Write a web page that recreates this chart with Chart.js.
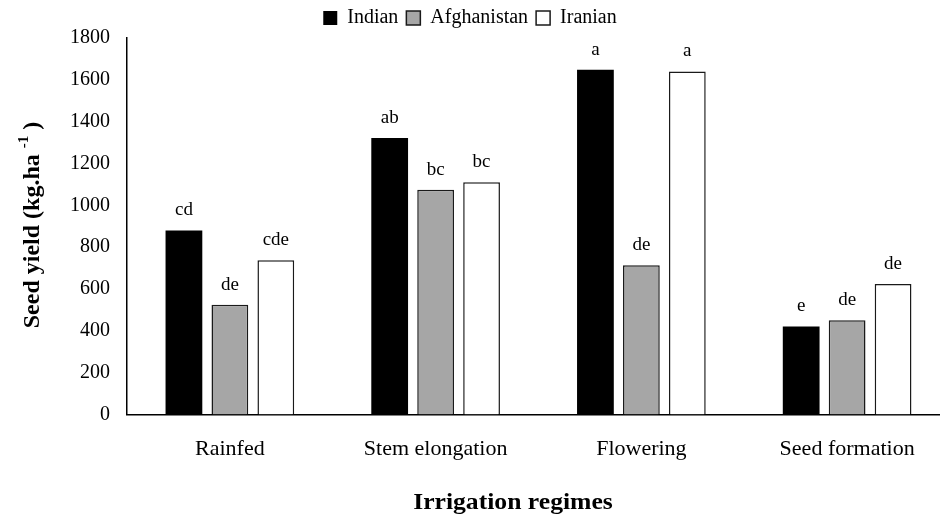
<!DOCTYPE html>
<html>
<head>
<meta charset="utf-8">
<title>Seed yield</title>
<script src="https://cdn.jsdelivr.net/npm/chart.js@4/dist/chart.umd.min.js"></script>
<style>
  html, body { margin: 0; padding: 0; background: #fff; }
  #wrap { width: 940px; height: 515px; }
</style>
</head>
<body>
<div id="wrap"><canvas id="myChart" width="940" height="515"></canvas></div>
<script>
'use strict';

// ******** GLOBAL VARIABLES **********

let regimes = ['Rainfed', 'Stem elongation', 'Flowering', 'Seed formation'];
let indianYield = [880, 1322, 1648, 421];
let afghanYield = [525, 1075, 713, 451];
let iranianYield = [737, 1110, 1640, 624];

let indianLetters = ['cd', 'ab', 'a', 'e'];
let afghanLetters = ['de', 'bc', 'de', 'de'];
let iranianLetters = ['cde', 'bc', 'a', 'de'];

let yTicks = [0, 200, 400, 600, 800, 1000, 1200, 1400, 1600, 1800];

let serif = '"Liberation Serif", "Times New Roman", serif';

// ********** DOM REFERENCES ***********

let ctx = document.getElementById('myChart').getContext('2d');

// ********** PLUGINS ***********

// the x axis of the original runs past the right edge of the picture
let stretchPlugin = {
  id: 'stretchX',
  afterLayout(chart) {
    let s = chart.scales.x;
    s.right = 950;
    s.width = s.right - s.left;
    s.configure();
    chart.chartArea.right = 950;
    chart.chartArea.width = 950 - chart.chartArea.left;
  }
};

// letters over each bar
let letterPlugin = {
  id: 'letters',
  afterDatasetsDraw(chart) {
    let c = chart.ctx;
    c.save();
    c.font = '19px ' + serif;
    c.fillStyle = '#000';
    c.textAlign = 'center';
    c.textBaseline = 'alphabetic';
    chart.data.datasets.forEach((ds, d) => {
      let meta = chart.getDatasetMeta(d);
      meta.data.forEach((bar, i) => {
        c.fillText(ds.letters[i], bar.x, bar.y - 15);
      });
    });
    c.restore();
  }
};

// axis titles (y one has a superscript)
let titlePlugin = {
  id: 'axisTitles',
  afterDraw(chart) {
    let c = chart.ctx;
    let area = chart.chartArea;
    c.save();
    c.fillStyle = '#000';

    // x title
    c.save();
    c.font = 'bold 22.5px ' + serif;
    c.textAlign = 'center';
    c.textBaseline = 'alphabetic';
    c.translate(513, 509);
    c.scale(1.14, 1);
    c.fillText('Irrigation regimes', 0, 0);
    c.restore();

    // y title
    let main = 'Seed yield (kg.ha ';
    let sup = '-1';
    let close = ' )';
    let bigFont = 'bold 24px ' + serif;
    let smallFont = 'bold 15px ' + serif;
    c.font = bigFont;
    let wMain = c.measureText(main).width;
    let wClose = c.measureText(close).width;
    c.font = smallFont;
    let wSup = c.measureText(sup).width;
    let total = wMain + wSup + wClose;

    c.translate(33, 225);
    c.rotate(-Math.PI / 2);
    c.textAlign = 'left';
    let x0 = -total / 2;
    c.font = bigFont;
    c.fillText(main, x0, 0);
    c.font = smallFont;
    c.fillText(sup, x0 + wMain, -9);
    c.font = bigFont;
    c.fillText(close, x0 + wMain + wSup, 0);
    c.restore();
  }
};

// *********** CHART ************

let myChartObj = {
  type: 'bar',
  data: {
    labels: regimes,
    datasets: [{
      label: 'Indian',
      data: indianYield,
      letters: indianLetters,
      backgroundColor: '#000000',
      borderColor: '#000000',
      borderWidth: 0
    },
    {
      label: 'Afghanistan',
      data: afghanYield,
      letters: afghanLetters,
      backgroundColor: '#a6a6a6',
      borderColor: '#1a1a1a',
      borderWidth: 1.5
    },
    {
      label: 'Iranian',
      data: iranianYield,
      letters: iranianLetters,
      backgroundColor: '#ffffff',
      borderColor: '#1a1a1a',
      borderWidth: 1.5
    }]
  },
  options: {
    responsive: false,
    animation: false,
    categoryPercentage: 0.67,
    barPercentage: 0.8,
    layout: {
      padding: { top: 0, left: 0, right: 0, bottom: 0 }
    },
    plugins: {
      tooltip: { enabled: false },
      legend: {
        position: 'top',
        labels: {
          boxWidth: 14,
          boxHeight: 14,
          padding: 8,
          color: '#000',
          font: { family: serif, size: 20 }
        }
      }
    },
    scales: {
      x: {
        grid: { display: false, drawTicks: false },
        border: { display: true, color: '#000', width: 1.5 },
        ticks: {
          color: '#000',
          padding: 22,
          maxRotation: 0,
          autoSkip: false,
          font: { family: serif, size: 22 }
        },
        afterFit(scale) {
          scale.height = 100.5;
        }
      },
      y: {
        min: 0,
        max: 1800,
        grid: { display: false, drawTicks: false },
        border: { display: true, color: '#000', width: 1.5 },
        afterBuildTicks(scale) {
          scale.ticks = yTicks.map(v => ({ value: v }));
        },
        ticks: {
          color: '#000',
          padding: 17,
          font: { family: serif, size: 20 },
          callback: v => String(v)
        },
        afterFit(scale) {
          scale.width = 127;
        }
      }
    }
  },
  plugins: [stretchPlugin, letterPlugin, titlePlugin]
};

new Chart(ctx, myChartObj);
</script>
</body>
</html>
